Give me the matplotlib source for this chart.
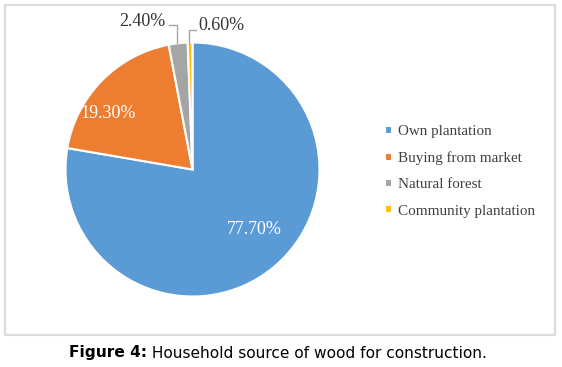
import matplotlib.pyplot as plt
from matplotlib.patches import Rectangle

sources = ['Own plantation', 'Buying from market', 'Natural forest', 'Community plantation']
shares = [77.7, 19.3, 2.4, 0.6]
labels = ['77.70%', '19.30%', '2.40%', '0.60%']
colors = ['#5B9BD5', '#ED7D31', '#A5A5A5', '#FFC000']

W, H = 562, 367
fig = plt.figure(figsize=(W / 100, H / 100), dpi=100)


def px(x, y):
    return x / W, 1 - y / H


# frame around the chart
fig.patches.append(Rectangle((5 / W, 1 - 335 / H), 550 / W, 330 / H, transform=fig.transFigure,
                             fill=False, edgecolor='#dcdcdc', linewidth=1.6))

# pie axes: center ~(192.5, 169.5) px, radius ~127 px
cx, cy, r = 192.5, 169.5, 127
ax = fig.add_axes([(cx - r) / W, 1 - (cy + r) / H, 2 * r / W, 2 * r / H])
wedges, _ = ax.pie(shares, colors=colors, startangle=90, counterclock=False, radius=1,
                   wedgeprops=dict(edgecolor='white', linewidth=1.5))
ax.set_xlim(-1, 1)
ax.set_ylim(-1, 1)
ax.set_aspect('equal')
ax.axis('off')

serif = ['Liberation Serif', 'DejaVu Serif']
ax.text(0.49, -0.47, labels[0], color='white', fontsize=13, family=serif, ha='center', va='center')
ax.text(-0.665, 0.44, labels[1], color='white', fontsize=13, family=serif, ha='center', va='center')

# outside labels with leader lines
fig.text(*px(142, 21), labels[2], fontsize=13, family=serif, color='#333333', ha='center', va='center')
fig.text(*px(221, 25), labels[3], fontsize=13, family=serif, color='#333333', ha='center', va='center')
fig.lines.append(plt.Line2D([169 / W, 177 / W, 177 / W], [1 - 25 / H, 1 - 25 / H, 1 - 43 / H],
                            transform=fig.transFigure, color='#a6a6a6', linewidth=1))
fig.lines.append(plt.Line2D([196 / W, 189 / W, 189 / W], [1 - 30 / H, 1 - 30 / H, 1 - 43 / H],
                            transform=fig.transFigure, color='#a6a6a6', linewidth=1))

leg = fig.legend(wedges, sources, loc='upper left', bbox_to_anchor=px(379, 119), frameon=False,
                 prop={'family': serif, 'size': 10.9}, handlelength=0.45, handleheight=0.45,
                 handletextpad=0.4, labelspacing=0.88, borderaxespad=0)
for t in leg.get_texts():
    t.set_color('#404040')

# caption: bold prefix + normal text, centered as a whole
renderer = fig.canvas.get_renderer()
t1 = fig.text(0, 1 - 353 / H, 'Figure 4:', fontsize=11.1, weight='bold', ha='left', va='center',
              family='DejaVu Sans')
t2 = fig.text(0, 1 - 353 / H, ' Household source of wood for construction.', fontsize=11.1,
              ha='left', va='center', family='DejaVu Sans')
w1 = t1.get_window_extent(renderer).width
w2 = t2.get_window_extent(renderer).width
x0 = 277.5 - (w1 + w2) / 2
t1.set_x(x0 / W)
t2.set_x((x0 + w1) / W)

fig.savefig('out.png', dpi=100)
